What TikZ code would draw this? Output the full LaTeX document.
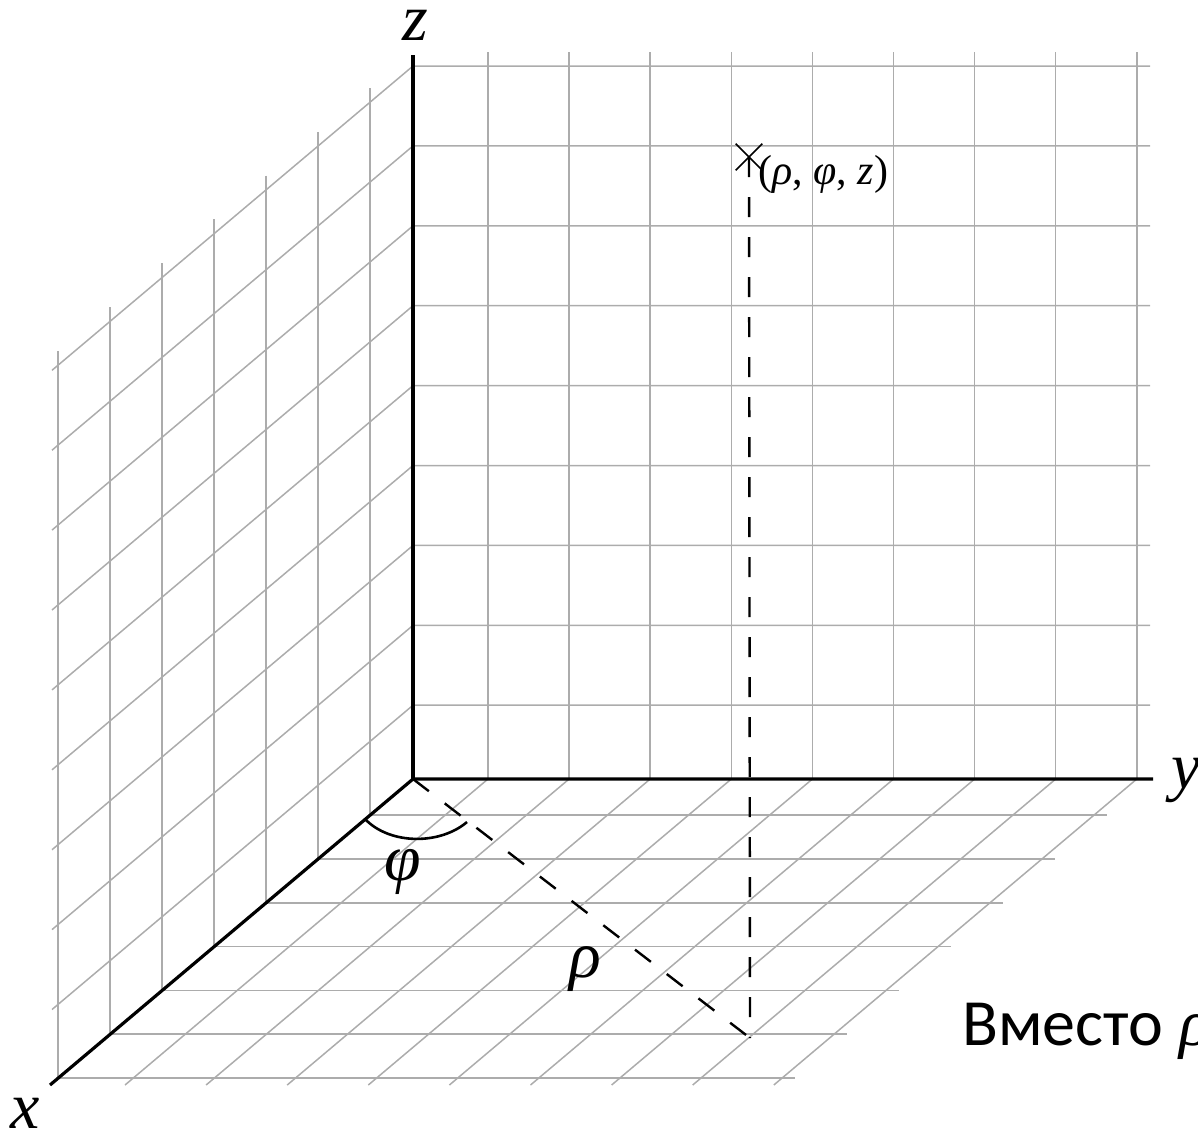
\documentclass[tikz,border=0pt]{standalone}
\usepackage{fontspec}
\setmainfont{Liberation Serif}
\newfontfamily\cyrsans{Carlito}
\usetikzlibrary{shapes.misc}

\begin{document}
\begin{tikzpicture}[
  x=0.5pt, y=-0.5pt,
  gridline/.style={line width=0.75pt, gray!65},
  axis/.style={line width=1.6pt},
  guide/.style={line width=1.2pt, dash pattern=on 10pt off 10pt},
  lbl/.style={font=\fontsize{33}{36}\selectfont\itshape, inner sep=0pt},
  ptlbl/.style={font=\fontsize{21}{24}\selectfont, inner sep=0pt},
  note/.style={font=\fontsize{33}{36}\selectfont, inner sep=0pt}
]
\useasboundingbox (0,0) rectangle (1198,1131);

% back wall
\foreach \i in {0,...,8}
  \draw[gridline] ({488+81.1*\i},52) -- ({488+81.1*\i},779);
\foreach \j in {0,...,8}
  \draw[gridline] (52,{370.3+79.9*\j}) -- (413,{66+79.9*\j}) -- (1150,{66+79.9*\j});

% left wall and floor
\foreach \k in {0,...,6}
  \draw[gridline] ({370-52*\k},{88+43.8*\k}) -- ({370-52*\k},{815.2+43.8*\k})
    -- ({1107-52*\k},{815.2+43.8*\k});
\foreach \i in {0,...,8}
  \draw[gridline] ({488+81.1*\i},779) -- ({125+81.1*\i},1085);

\coordinate (O) at (413,779);
\coordinate (xend) at (50,1085);
\coordinate (yend) at (1153,779);
\coordinate (zend) at (413,55);
\coordinate (F) at (750,1038);

\draw[axis] (xend) -- (O) -- (yend);
\draw[axis] (O) -- (zend);

\node[lbl, anchor=base] (xlbl) at (25,1128) {x};
\node[lbl, anchor=base west] (ylbl) at (1171,788) {y};
\node[lbl, anchor=base] (zlbl) at (415,40) {z};

\node[draw, cross out, line width=0.8pt, minimum size=12.5pt, inner sep=0pt] (P) at (749,157) {};
\node[ptlbl, anchor=base west] (plbl) at (758,184) {(\textit{ρ}, \textit{φ}, \textit{z})};

\draw[guide] (P.center) -- (F);
\draw[guide] (O) -- (F);

\coordinate (phiA) at (365,819);
\coordinate (phiB) at (467,822);
\draw[line width=1.3pt] (phiA) .. controls (390,845) and (440,845) .. (phiB);
\node[lbl, anchor=base] (philbl) at (403,880) {φ};
\node[lbl, anchor=base] (rholbl) at (585,977) {ρ};

\node[note, anchor=base west] (rem) at (962,1045) {{\cyrsans Вместо} \textit{ρ}};
\end{tikzpicture}
\end{document}
